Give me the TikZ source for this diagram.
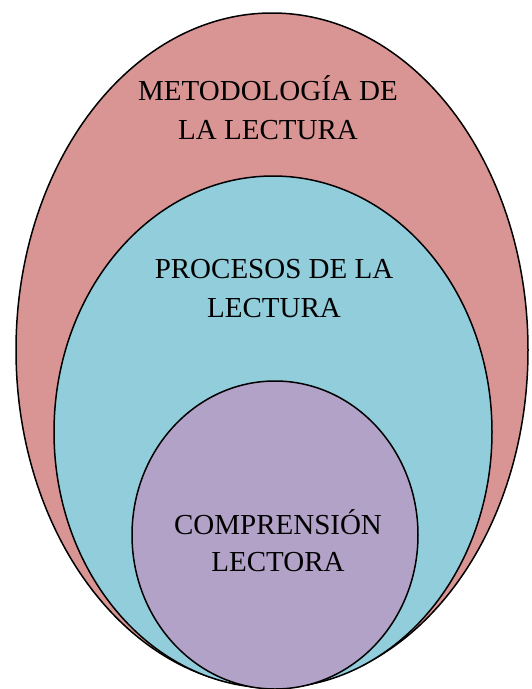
\documentclass[tikz,border=0pt]{standalone}
\usepackage{fontspec}
\setmainfont{Liberation Serif}
\usetikzlibrary{shapes.geometric}
\definecolor{outerc}{HTML}{D99594}
\definecolor{midc}{HTML}{92CDDC}
\definecolor{innerc}{HTML}{B2A2C7}
\tikzset{
  ring/.style={ellipse, draw=black, line width=1.5pt, inner sep=0pt},
  label/.style={align=center, font=\fontsize{29}{39}\selectfont, inner sep=0pt}
}
\begin{document}
\begin{tikzpicture}[x=1pt,y=-1pt]
\useasboundingbox (0,0) rectangle (532,689);
\node[ring, fill=outerc, minimum width=512pt, minimum height=674pt] (outer) at (272,350) {};
\node[ring, fill=midc, minimum width=438pt, minimum height=512pt] (middle) at (273,432) {};
\node[ring, fill=innerc, minimum width=286pt, minimum height=308pt] (inner) at (275,535) {};
\node[label] (t1) at (268,108) {METODOLOGÍA DE\\LA LECTURA};
\node[label] (t2) at (274,289) {PROCESOS DE LA\\LECTURA};
\node[label, font=\fontsize{29}{37}\selectfont] (t3) at (278,541) {COMPRENSIÓN\\LECTORA};
\end{tikzpicture}
\end{document}
